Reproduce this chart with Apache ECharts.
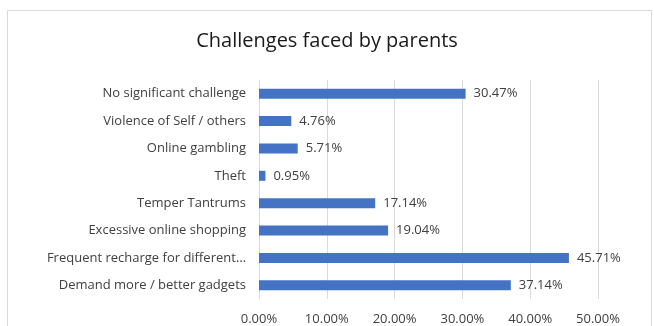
<!DOCTYPE html>
<html>
<head>
<meta charset="utf-8">
<script src="https://cdn.jsdelivr.net/npm/echarts@6/dist/echarts.min.js"></script>
<style>html,body{margin:0;padding:0;background:#fff}#c{width:654px;height:326px}</style>
</head>
<body>
<div id="c"></div>
<script>
const titleText = 'Challenges faced by parents';
const categories = ['Demand more / better gadgets', 'Frequent recharge for different\u2026', 'Excessive online shopping', 'Temper Tantrums', 'Theft', 'Online gambling', 'Violence of Self / others', 'No significant challenge'];
const values = [37.14, 45.71, 19.04, 17.14, 0.95, 5.71, 4.76, 30.47];
const xTicks = [0, 10, 20, 30, 40, 50];

const FONT = '"Open Sans", "Noto Sans", sans-serif';
const chart = echarts.init(document.getElementById('c'), null, {renderer: 'canvas'});
chart.setOption({
  animation: false,
  backgroundColor: '#fff',
  graphic: [{
    type: 'rect', shape: {x: 7.5, y: 10.5, width: 644, height: 340},
    style: {fill: 'none', stroke: '#d9d9d9', lineWidth: 1}, silent: true, z: -1
  }],
  title: {
    text: titleText, left: 'center', top: 26,
    textStyle: {fontFamily: FONT, fontSize: 20, fontWeight: 'normal', color: '#1a1a1a'}
  },
  grid: {left: 259, right: 56, top: 80, bottom: 26, containLabel: false},
  xAxis: {
    type: 'value', min: xTicks[0], max: xTicks[xTicks.length - 1], interval: 10,
    axisLine: {show: false}, axisTick: {show: false},
    splitLine: {show: true, lineStyle: {color: '#d9d9d9', width: 1}},
    axisLabel: {
      formatter: v => v.toFixed(2) + '%', margin: 14,
      fontFamily: FONT, fontSize: 13, color: '#404040'
    }
  },
  yAxis: {
    type: 'category', data: categories,
    axisLine: {show: false}, axisTick: {show: false},
    axisLabel: {fontFamily: FONT, fontSize: 13, color: '#404040', margin: 13}
  },
  series: [{
    type: 'bar', data: values, barWidth: 10,
    itemStyle: {color: '#4472C4'},
    label: {
      show: true, position: 'right', distance: 8,
      formatter: p => p.value.toFixed(2) + '%',
      fontFamily: FONT, fontSize: 13, color: '#404040'
    }
  }]
});
</script>
</body>
</html>
